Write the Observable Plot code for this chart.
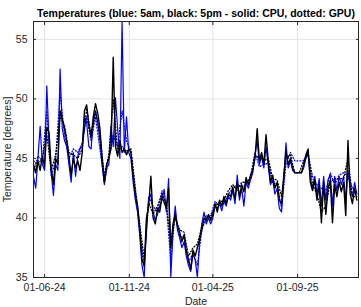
<!DOCTYPE html>
<html><head><meta charset="utf-8">
<script src="https://cdn.jsdelivr.net/npm/d3@7"></script>
<script src="https://cdn.jsdelivr.net/npm/@observablehq/plot@0.6"></script>
<style>body{margin:0;background:#fff} svg{display:block}</style>
</head><body><div id="chart"></div>
<script>
const titleText = "Temperatures (blue: 5am, black: 5pm - solid: CPU, dotted: GPU)";
const xLabel = "Date";
const yLabel = "Temperature [degrees]";
const startDate = "2024-05-12";
const cpuStepDays = 4;
const gpuStepDays = 8;

// CPU temperature at 5pm (black solid), one value every 4 days
const cpu5pm = [44.5,43.8,44.8,44.0,45.2,44.3,47.6,47.2,44.2,42.8,45.0,44.5,49.0,48.3,47.5,46.5,45.2,43.6,45.0,44.2,
44.8,44.0,45.5,49.0,49.5,47.8,46.8,48.5,49.6,48.8,47.5,45.0,43.0,44.5,45.0,45.8,53.5,46.0,45.2,46.5,
45.5,45.8,45.3,45.8,45.5,43.5,42.0,41.0,39.0,36.5,36.0,40.0,41.0,43.5,40.0,39.5,40.8,40.5,41.8,41.3,
40.8,42.5,37.5,39.5,40.3,39.3,38.8,38.0,38.6,37.2,36.5,35.7,37.3,36.8,37.5,38.2,39.0,40.0,39.8,40.3,
39.8,40.3,41.2,40.5,41.5,41.0,41.8,41.2,42.0,41.8,42.6,41.6,43.0,41.8,42.8,42.2,43.4,42.8,43.6,44.0,
45.0,47.5,44.8,45.5,44.5,47.0,44.8,43.0,43.6,42.5,43.0,41.5,41.2,43.5,45.6,44.5,45.0,44.2,43.8,43.8,
43.8,43.8,44.5,45.3,45.8,43.0,42.3,43.2,41.5,42.8,39.6,43.0,40.3,42.5,43.2,39.6,42.8,41.8,43.0,42.2,
43.0,40.2,46.5,42.0,41.2,42.5,41.5];

// CPU temperature at 5am (blue solid), one value every 4 days
const cpu5am = [43.5,42.5,45.0,47.7,44.5,44.0,51.1,46.5,43.8,41.9,44.5,44.0,52.5,47.5,46.5,46.0,44.5,43.0,45.5,43.5,
45.2,45.8,46.0,48.5,48.0,46.0,45.8,48.0,49.0,48.0,46.5,44.5,42.8,44.2,44.5,47.7,46.0,50.1,47.5,45.0,
56.5,45.5,48.5,45.5,45.0,43.0,41.5,40.5,38.5,36.0,35.0,39.5,41.5,42.0,40.5,39.8,40.3,41.0,41.5,42.4,
40.5,43.3,35.0,39.0,41.0,39.0,38.3,37.5,38.0,36.8,36.0,35.5,37.0,36.5,35.0,38.0,39.5,40.5,39.5,40.0,
39.5,40.0,41.0,40.8,41.2,40.6,41.5,41.0,41.8,41.5,42.3,41.2,43.6,41.5,42.5,41.0,43.0,42.5,43.2,43.8,
45.3,46.5,44.5,45.2,44.2,46.0,44.3,42.8,43.2,42.0,42.5,40.8,40.5,43.2,46.3,44.2,44.8,44.0,43.8,43.8,
43.8,43.8,44.2,45.0,45.5,43.3,42.5,43.5,42.0,43.3,41.0,43.5,41.5,43.2,43.6,41.0,43.5,42.3,43.5,42.8,
43.5,41.5,44.0,42.5,41.8,43.0,42.0];

// GPU temperature at 5pm (black dotted), one value every 8 days
const gpu5pm = [44.8,44.5,45.0,47.0,44.0,45.3,48.5,47.8,45.5,45.3,45.0,45.8,49.2,47.0,49.0,47.0,43.5,45.3,50.0,45.6,
46.0,45.6,45.8,42.5,39.5,36.5,41.3,40.3,41.0,42.0,41.2,38.0,40.0,39.0,38.8,36.8,37.5,37.8,39.3,40.2,
40.0,41.0,41.3,41.5,42.3,42.8,42.3,43.0,43.0,43.3,45.3,45.0,44.8,45.0,43.3,43.2,41.8,45.0,45.3,43.8,
43.8,44.8,45.5,42.8,42.0,40.5,41.0,43.0,43.3,43.3,43.3,45.0,41.8,41.8];

// GPU temperature at 5am (blue dotted), one value every 8 days
const gpu5am = [43.8,45.2,44.8,49.0,43.5,44.8,50.5,47.0,45.0,45.8,45.5,46.3,48.5,46.5,48.5,45.8,43.0,45.0,47.0,46.0,
49.0,46.5,45.5,42.0,39.0,35.8,41.8,41.0,40.5,42.3,41.0,36.5,40.5,38.5,38.3,36.3,37.0,36.0,39.0,40.0,
40.2,41.4,41.0,41.2,42.0,42.5,42.8,42.6,42.8,43.5,45.5,44.3,44.5,44.6,43.0,42.8,40.8,44.5,45.5,44.8,
44.8,44.8,45.3,43.5,42.8,42.5,42.3,43.8,42.8,43.6,43.8,43.5,42.5,42.5];

const xTickDates = ["2024-06-01","2024-11-01","2025-04-01","2025-09-01"];
const yTickValues = [35,40,45,50,55];
const xDomainDates = ["2024-05-12","2025-12-20"];
const yDomainValues = [35,56.5];

const DAY = 864e5;
const t0 = Date.parse(startDate);
const toRows = (vals, step) => vals.map((v, i) => ({date: new Date(t0 + i*step*DAY), value: v}));
const xTicks = xTickDates.map(d => new Date(d));
const fmt = d3.utcFormat("%d-%m-%y");
const axisColor = "#262626";
const gridColor = "#e3e3e3";

const chart = Plot.plot({
  width: 361, height: 307,
  marginLeft: 33, marginRight: 3, marginTop: 21, marginBottom: 30,
  style: {fontFamily: "'Liberation Sans', Arial, sans-serif", fontSize: "10.5px", color: axisColor, background: "#fff"},
  x: {type: "utc", domain: xDomainDates.map(d => new Date(d))},
  y: {domain: yDomainValues},
  marks: [
    Plot.gridY(yTickValues, {stroke: gridColor, strokeOpacity: 1}),
    Plot.gridX(xTicks, {stroke: gridColor, strokeOpacity: 1}),
    Plot.line(toRows(cpu5am, cpuStepDays), {x: "date", y: "value", stroke: "#0000ff", strokeWidth: 1.2}),
    Plot.line(toRows(gpu5am, gpuStepDays), {x: "date", y: "value", stroke: "#0000ff", strokeWidth: 1.3, strokeDasharray: "1,2"}),
    Plot.line(toRows(gpu5pm, gpuStepDays), {x: "date", y: "value", stroke: "#000", strokeWidth: 1.3, strokeDasharray: "1,2"}),
    Plot.line(toRows(cpu5pm, cpuStepDays), {x: "date", y: "value", stroke: "#000", strokeWidth: 1.4}),
    Plot.frame({stroke: axisColor, strokeWidth: 1}),
    Plot.axisX(xTicks, {anchor: "bottom", tickSize: -3, tickPadding: 9, tickFormat: fmt, label: xLabel, labelAnchor: "center", labelArrow: "none", labelOffset: 27, stroke: axisColor, fill: axisColor}),
    Plot.axisX(xTicks, {anchor: "top", tickSize: -3, tickFormat: () => "", label: null, stroke: axisColor}),
    Plot.axisY(yTickValues, {anchor: "left", tickSize: -3, tickPadding: 9, label: yLabel, labelAnchor: "center", labelArrow: "none", labelOffset: 30, stroke: axisColor, fill: axisColor}),
    Plot.axisY(yTickValues, {anchor: "right", tickSize: -3, tickFormat: () => "", label: null, stroke: axisColor}),
    Plot.text([titleText], {frameAnchor: "top", dy: -12, fontWeight: "bold", fontSize: 10.5, fill: "#000"})
  ]
});
document.getElementById("chart").appendChild(chart);
</script>
</body></html>
